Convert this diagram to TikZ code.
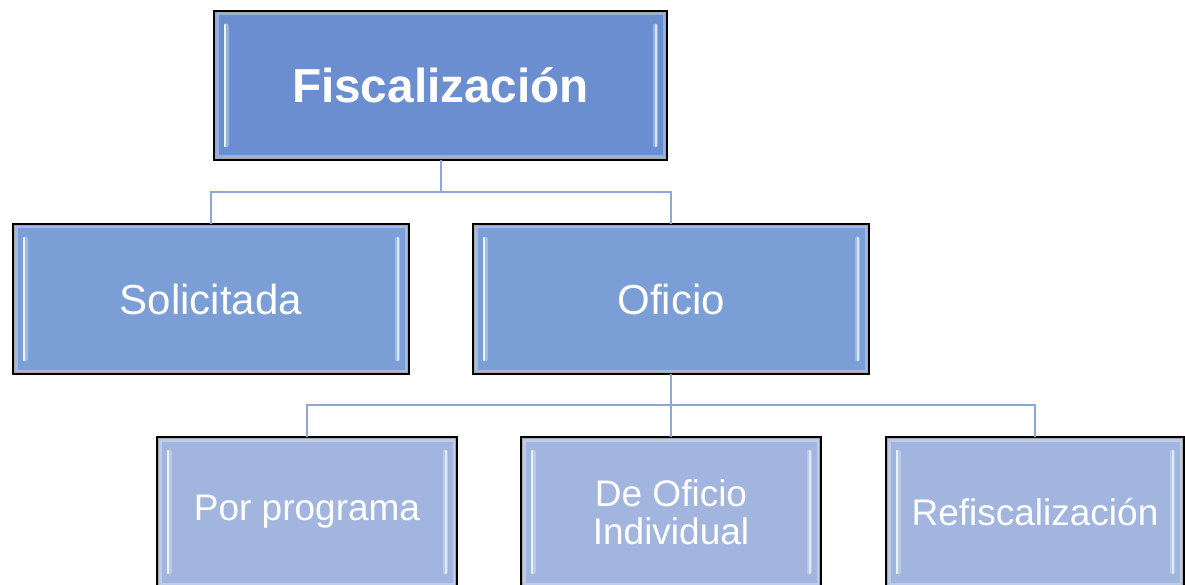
\documentclass[tikz,border=0pt]{standalone}
\usepackage{fontspec}
\setmainfont{Liberation Sans}
\begin{document}
\begin{tikzpicture}[x=1pt,y=-1pt]
\definecolor{ctop}{HTML}{6B8ED0}
\definecolor{cmid}{HTML}{7A9ED5}
\definecolor{cbot}{HTML}{A2B5DF}
\definecolor{cline}{HTML}{8EA6DA}
\definecolor{cstripe}{HTML}{EAF4FF}
\tikzset{
  box/.style={draw=black, line width=2.6pt, inner sep=0pt, outer sep=0pt, text=white, align=center},
  lvlone/.style={box, fill=ctop, minimum width=453pt, minimum height=149pt, font=\fontsize{47.7}{50}\selectfont\bfseries},
  lvltwo/.style={box, fill=cmid, minimum width=396pt, minimum height=150pt, font=\fontsize{42}{44}\selectfont},
  lvlthree/.style={box, fill=cbot, minimum width=300pt, minimum height=150pt, font=\fontsize{37}{38}\selectfont},
  conn/.style={draw=cline, line width=2pt},
  stripe/.style={draw=cstripe, line width=2.5pt, line cap=round},
  softstripe/.style={draw=cstripe, line width=5pt, line cap=round, opacity=0.35},
}
\useasboundingbox (0,0) rectangle (1185,585);
\node[lvlone]   (f) at (440.5,85.5) {Fiscalización};
\node[lvltwo]   (s) at (211,299) {Solicitada};
\node[lvltwo]   (o) at (671,299) {Oficio};
\node[lvlthree] (p) at (307,512) {Por programa};
\node[lvlthree] (d) at (671,512) {De Oficio\\Individual};
\node[lvlthree, minimum width=298pt] (r) at (1035,512) {Refiscalización};
% connectors
\draw[conn] (f.south) -- ++(0,32) -| (s.north);
\draw[conn] (f.south) -- ++(0,32) -| (o.north);
\draw[conn] (o.south) -- ++(0,31) -| (p.north);
\draw[conn] (o.south) -- (d.north);
\draw[conn] (o.south) -- ++(0,31) -| (r.north);
% bevel decoration
\foreach \n/\c in {f/ctop,s/cmid,o/cmid,p/cbot,d/cbot,r/cbot}{
  \draw[draw=\c!70!white, line width=3pt]
    ([shift={(3pt,-3pt)}]\n.north west) rectangle ([shift={(-3pt,3pt)}]\n.south east);
  \draw[draw=gray!70, line width=0.8pt]
    ([shift={(1.6pt,-1.6pt)}]\n.north west) rectangle ([shift={(-1.6pt,1.6pt)}]\n.south east);
  \draw[softstripe] ([shift={(12pt,-15pt)}]\n.north west) -- ([shift={(12pt,15pt)}]\n.south west);
  \draw[stripe] ([shift={(11pt,-14pt)}]\n.north west) -- ([shift={(11pt,14pt)}]\n.south west);
  \draw[softstripe] ([shift={(-12pt,-15pt)}]\n.north east) -- ([shift={(-12pt,15pt)}]\n.south east);
  \draw[stripe, opacity=0.75] ([shift={(-11pt,-14pt)}]\n.north east) -- ([shift={(-11pt,14pt)}]\n.south east);
}
\end{tikzpicture}
\end{document}
